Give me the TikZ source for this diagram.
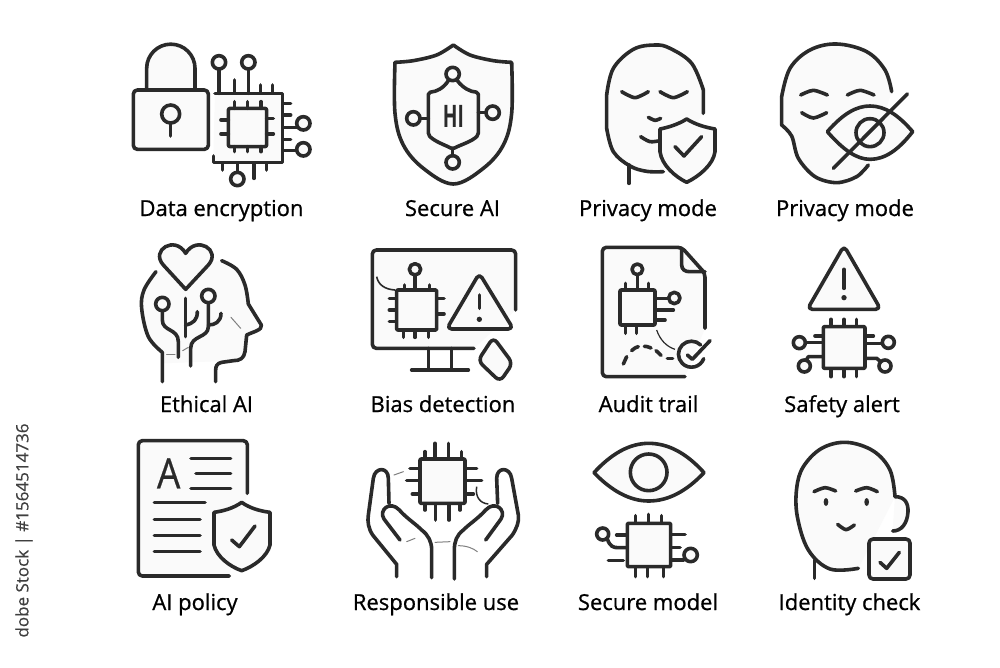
\documentclass[tikz,border=0pt]{standalone}
\usepackage{fontspec}
\setmainfont{Open Sans}
\definecolor{ink}{HTML}{2A2A2A}
\definecolor{pale}{HTML}{FAFAFA}
\tikzset{
  ln/.style={draw=ink,line width=3.6pt,line cap=round,line join=round},
  lf/.style={ln,fill=pale},
  thin/.style={draw=ink!60,line width=1pt,line cap=round},
  lab/.style={text=black,font=\fontsize{22}{24}\selectfont\addfontfeature{FakeBold=0.8},inner sep=0pt,anchor=base},
  zoomed/.style={x=0.33333pt,y=-0.33333pt}
}
\newcommand{\cir}[3]{\draw[lf] (#1,#2) circle[radius=#3];}
\newcommand{\seg}[4]{\draw[ln] (#1,#2) -- (#3,#4);}
\begin{document}
\begin{tikzpicture}[x=1pt,y=-1pt]
\fill[white] (0,0) rectangle (1000,667);
\useasboundingbox (0,0) rectangle (1000,667);
% side label
\node[rotate=90,inner sep=0pt,text=ink!90!white,font=\fontsize{17}{19}\selectfont\addfontfeature{FakeBold=0.4}] (side) at (24,530.5) {dobe Stock | \#1564514736};
% ---------- Data encryption
\begin{scope}[shift={(120,30)},zoomed]
  \draw[lf] (285,190) -- (488,190) -- (488,398) -- (280,398) -- (280,378);
  \draw[ln,fill=pale] (80,178) -- (80,115) arc[start angle=180,end angle=360,radius=72.5] -- (225,178);
  \seg{297}{117}{297}{190}\seg{385}{117}{385}{190}
  \cir{297}{97}{20}\cir{385}{97}{20}
  \seg{343}{150}{343}{188}\seg{422}{165}{422}{188}\seg{458}{165}{458}{188}
  \foreach \yy in {220,255,328}{\seg{490}{\yy}{512}{\yy}}
  \seg{490}{292}{532}{292}\seg{490}{362}{532}{362}
  \cir{550}{280}{20}\cir{550}{358}{20}
  \seg{308}{400}{308}{420}\seg{402}{400}{402}{445}\seg{440}{400}{440}{420}\seg{352}{400}{352}{427}
  \cir{352}{447}{20}
  \draw[lf,rounded corners=2pt] (325,235) rectangle (440,350);
  \foreach \xx in {343,383,423}{\seg{\xx}{215}{\xx}{235}\seg{\xx}{350}{\xx}{365}}
  \seg{303}{270}{325}{270}\seg{303}{312}{325}{312}\seg{440}{265}{460}{265}\seg{440}{312}{460}{312}
  \draw[lf,rounded corners=4pt] (40,180) rectangle (265,358);
  \draw[ln] (152,252) circle[radius=27];
  \seg{152}{279}{152}{318}
\end{scope}
% ---------- Secure AI
\begin{scope}[shift={(120,30)},zoomed]
  \draw[lf] plot[smooth,tension=0.55] coordinates {(1000,45) (950,75) (880,92) (825,97)} -- plot[smooth,tension=0.6] coordinates {(825,97) (825,250) (850,345) (910,415) (1000,462) (1090,415) (1150,345) (1175,250) (1175,97)} -- plot[smooth,tension=0.55] coordinates {(1175,97) (1120,92) (1050,75) (1000,45)} -- cycle;
  \draw[ln,rounded corners=2pt] (985,152) .. controls (970,175) and (950,185) .. (925,187) -- (925,315) .. controls (945,335) and (975,345) .. (998,357) .. controls (1020,345) and (1055,335) .. (1075,315) -- (1075,187) .. controls (1050,185) and (1030,175) .. (1012,152);
  \cir{998}{132}{20}\cir{880}{265}{20}\cir{1118}{248}{20}\cir{998}{397}{20}
  \seg{900}{265}{925}{265}\seg{1075}{248}{1098}{248}\seg{998}{357}{998}{377}
  \node[inner sep=0pt,text=ink,font=\fontsize{31}{31}\selectfont\bfseries] (hi) at (1000,259) {\scalebox{0.62}[1]{HI}};
\end{scope}
% ---------- Privacy mode 1
\begin{scope}[shift={(570,30)},zoomed]
  \draw[lf] (400,250) -- plot[smooth,tension=0.6] coordinates {(400,180) (365,100) (300,55) (255,45) (190,58) (130,115) (110,195)} -- (110,295) -- plot[smooth,tension=0.6] coordinates {(110,295) (130,365) (180,408) (230,424) (280,425)};
  \seg{177}{405}{177}{460}
  \draw[ln] plot[smooth] coordinates {(155,185) (195,203) (235,185)};
  \draw[ln] plot[smooth] coordinates {(270,185) (310,203) (352,185)};
  \draw[ln] plot[smooth] coordinates {(235,262) (255,271) (272,265)};
  \draw[ln] plot[smooth] coordinates {(212,320) (240,335) (270,332)};
  \draw[lf] (350,267) .. controls (325,283) and (295,292) .. (270,297) -- (270,365) .. controls (275,405) and (315,440) .. (350,457) .. controls (385,440) and (430,405) .. (435,365) -- (435,297) .. controls (405,292) and (375,283) .. (350,267) -- cycle;
  \draw[ln] (315,350) -- (342,378) -- (395,320);
\end{scope}
% ---------- Privacy mode 2
\begin{scope}[shift={(570,30)},zoomed]
  \draw[lf] plot[smooth,tension=0.6] coordinates {(965,185) (945,120) (890,65) (800,42) (720,60) (660,115) (635,200)} -- (635,285) -- plot[smooth,tension=0.55] coordinates {(635,285) (665,318) (685,385) (735,440) (800,458) (860,440) (895,405)};
  \draw[ln] plot[smooth] coordinates {(692,195) (730,181) (772,195)};
  \draw[ln] plot[smooth] coordinates {(832,195) (870,181) (912,195)};
  \draw[ln] plot[smooth] coordinates {(695,248) (730,264) (770,248)};
  \draw[lf] (772,305) .. controls (820,250) and (860,228) .. (900,228) .. controls (945,228) and (985,255) .. (1028,305) .. controls (985,360) and (945,388) .. (900,388) .. controls (860,388) and (820,360) .. (772,305) -- cycle;
  \draw[ln] (900,308) circle[radius=42];
  \draw[ln] (790,415) -- (1012,192);
\end{scope}
% ---------- Ethical AI
\begin{scope}[shift={(120,230)},zoomed]
  \fill[pale] plot[smooth,tension=0.6] coordinates {(108,125) (72,180) (65,235) (85,320) (127,367)} -- (127,400) -- (340,392) -- (375,365) -- (380,315) -- (424,290) -- plot[smooth,tension=0.6] coordinates {(385,222) (375,165) (350,118) (305,92)} -- cycle;
  \draw[ln] plot[smooth,tension=0.6] coordinates {(108,125) (72,180) (65,235) (85,320) (127,367)} -- (127,455);
  \draw[ln] plot[smooth,tension=0.6] coordinates {(305,92) (350,118) (375,165) (385,222)} -- (424,285) .. controls (428,300) and (400,305) .. (380,315) -- (375,365) .. controls (372,385) and (360,392) .. (340,392) -- (305,397) .. controls (290,400) and (287,410) .. (287,420) -- (287,455);
  \draw[lf] (197,178) -- (130,105) .. controls (90,60) and (165,15) .. (197,70) .. controls (230,15) and (305,60) .. (265,105) -- (197,178) -- cycle;
  \draw[ln] (127,242) -- (127,270) .. controls (127,305) and (175,295) .. (175,335) -- (175,382);
  \draw[ln] (197,205) -- (197,320);
  \draw[ln] (197,285) .. controls (220,280) and (232,270) .. (232,245);
  \draw[ln] (265,218) -- (265,290) .. controls (265,325) and (212,315) .. (212,355) -- (212,408);
  \draw[ln] (265,285) .. controls (285,285) and (303,275) .. (303,250);
  \cir{127}{222}{20}\cir{265}{198}{20}
  \draw[thin] (140,372) -- (165,372); \draw[thin] (188,362) -- (205,352);
  \draw[thin] (333,262) -- (362,295);
\end{scope}
% ---------- Bias detection
\begin{scope}[shift={(120,230)},zoomed]
  \draw[ln,fill=pale,rounded corners=4pt] (1187,240) -- (1187,60) -- (757,60) -- (757,355) -- (1062,355);
  \seg{925}{355}{925}{420}\seg{995}{355}{995}{420}\seg{875}{420}{1045}{420}
  \draw[draw=ink,line width=1.6pt] (770,140) .. controls (775,165) and (795,178) .. (825,180);
  \seg{885}{135}{885}{180}\cir{885}{118}{17}
  \seg{853}{165}{853}{180}\seg{928}{165}{928}{180}
  \foreach \yy in {205,240,275}{\seg{808}{\yy}{830}{\yy}}
  \seg{950}{205}{972}{205}\seg{950}{252}{972}{252}
  \foreach \xx in {850,885,925}{\seg{\xx}{300}{\xx}{322}}
  \draw[lf,rounded corners=1pt] (830,180) rectangle (950,300);
  \draw[lf,rounded corners=5pt] (1078,130) -- (980,297) -- (1180,297) -- cycle;
  \seg{1078}{195}{1078}{235}\fill[ink] (1078,268) circle[radius=8];
  \draw[lf,rounded corners=6pt] (1120,322) -- (1074,392) -- (1140,455) -- (1178,400) -- cycle;
\end{scope}
% ---------- Audit trail
\begin{scope}[shift={(570,230)},zoomed]
  \draw[ln,fill=pale,rounded corners=4pt] (345,440) -- (97,440) -- (97,52) -- (335,52) -- (405,130) -- (405,295);
  \draw[ln] (335,55) -- (335,105) .. controls (335,118) and (345,125) .. (358,125) -- (405,125);
  \seg{202}{135}{202}{180}\cir{202}{118}{16}
  \seg{167}{160}{167}{180}\seg{235}{160}{235}{180}
  \seg{255}{205}{296}{205}\cir{313}{204}{17}
  \seg{255}{240}{310}{240}\seg{255}{270}{285}{270}
  \seg{167}{285}{167}{310}\seg{200}{285}{200}{310}
  \draw[lf,rounded corners=1pt] (150,180) rectangle (255,285);
  \draw[ln] (160,402) -- (170,380);
  \draw[ln] plot[smooth] coordinates {(185,362) (195,354) (205,350)};
  \draw[ln] plot[smooth] coordinates {(223,349) (232,350) (243,354)};
  \draw[ln] plot[smooth] coordinates {(258,362) (266,369) (273,376)};
  \draw[ln] (292,385) -- (308,385);
  \draw[draw=ink,line width=1.2pt] (260,300) .. controls (270,330) and (290,350) .. (315,358);
  \draw[ln] (392,345) arc[start angle=315,end angle=20,radius=39];
  \draw[ln] (352,375) -- (367,388) -- (420,332);
\end{scope}
% ---------- Safety alert
\begin{scope}[shift={(570,230)},zoomed]
  \draw[lf,rounded corners=5pt] (822,47) -- (712,238) -- (932,238) -- cycle;
  \seg{822}{118}{822}{175}\fill[ink] (822,203) circle[radius=8];
  \foreach \xx in {783,822,860}{\seg{\xx}{268}{\xx}{290}\seg{\xx}{415}{\xx}{440}}
  \seg{885}{318}{910}{318}\seg{885}{340}{937}{340}\cir{955}{337}{18}
  \draw[ln] (885,385) -- (920,385) -- (932,395);\cir{945}{408}{18}
  \seg{735}{318}{760}{318}\seg{706}{338}{760}{338}\cir{688}{338}{18}
  \draw[ln] (760,380) -- (715,380) -- (708,392);\cir{703}{408}{18}
  \draw[lf,rounded corners=1pt] (760,290) rectangle (885,415);
\end{scope}
% ---------- AI policy
\begin{scope}[shift={(120,425)},zoomed]
  \draw[ln,fill=pale,rounded corners=4pt] (382,205) -- (382,47) -- (55,47) -- (55,453) -- (328,453);
  \node[inner sep=0pt,text=ink,font=\fontsize{42}{42}\selectfont\addfontfeature{FakeBold=0.5}] (policyA) at (146,145) {\scalebox{0.88}[1]{A}};
  \seg{213}{100}{332}{100}\seg{228}{145}{332}{145}\seg{213}{190}{332}{190}
  \seg{103}{233}{255}{233}\seg{103}{283}{240}{283}\seg{103}{332}{240}{332}\seg{103}{380}{240}{380}
  \draw[lf] (365,232) .. controls (340,250) and (310,258) .. (282,262) -- (282,360) .. controls (290,395) and (330,425) .. (365,437) .. controls (400,425) and (442,395) .. (450,360) -- (450,262) .. controls (420,258) and (390,250) .. (365,232) -- cycle;
  \draw[ln] (335,345) -- (358,365) -- (405,303);
\end{scope}
% ---------- Responsible use
\begin{scope}[shift={(120,425)},zoomed]
  \foreach \xx/\ya in {915/80,945/55,985/55,1025/80}{\seg{\xx}{\ya}{\xx}{102}}
  \foreach \xx/\ya in {915/255,947/285,987/285,1020/255}{\seg{\xx}{235}{\xx}{\ya}}
  \seg{870}{130}{900}{130}\seg{860}{167}{900}{167}\seg{877}{207}{900}{207}
  \seg{1035}{130}{1070}{130}\seg{1035}{167}{1085}{167}\seg{1035}{207}{1060}{207}
  \draw[lf,rounded corners=1pt] (900,102) rectangle (1035,235);
  \draw[ln] (830,455) -- (830,418) -- (758,330) .. controls (745,310) and (742,290) .. (745,270) -- (760,160) .. controls (765,125) and (805,125) .. (805,160) -- (807,235);
  \draw[ln] (840,345) -- (792,282) .. controls (775,255) and (810,225) .. (838,255) .. controls (860,280) and (885,295) .. (905,315) .. controls (925,330) and (935,350) .. (935,375) -- (935,458);
  \draw[ln] (1100,455) -- (1100,418) -- (1177,330) .. controls (1190,310) and (1198,290) .. (1195,270) -- (1175,160) .. controls (1170,125) and (1130,125) .. (1130,160) -- (1133,235);
  \draw[ln] (1097,345) -- (1143,282) .. controls (1160,255) and (1125,225) .. (1097,255) .. controls (1075,280) and (1050,295) .. (1030,315) .. controls (1010,330) and (1003,350) .. (1003,375) -- (1003,462);
  \draw[thin] (822,150) -- (850,140); \draw[thin] (860,350) -- (885,340); \draw[thin] (945,352) -- (990,350); \draw[thin] (1015,362) .. controls (1040,362) and (1060,370) .. (1072,380);
  \draw[draw=ink,line width=1.5pt] (1070,185) .. controls (1065,215) and (1080,235) .. (1105,237);
\end{scope}
% ---------- Secure model
\begin{scope}[shift={(570,425)},zoomed]
  \draw[lf] (72,143) .. controls (125,85) and (180,55) .. (236,55) .. controls (295,55) and (350,85) .. (402,143) .. controls (350,198) and (295,228) .. (236,228) .. controls (180,228) and (125,198) .. (72,143) -- cycle;
  \draw[ln] (236,142) circle[radius=55];
  \foreach \xx/\yb in {197/272,236/268,275/272}{\seg{\xx}{\yb}{\xx}{295}}
  \foreach \xx in {197,233,280}{\seg{\xx}{425}{\xx}{455}}
  \draw[ln] (112,342) .. controls (120,365) and (130,368) .. (145,368) -- (172,368);
  \cir{98}{327}{18}
  \seg{140}{330}{172}{330}\seg{115}{407}{160}{407}
  \seg{302}{328}{345}{328}\seg{302}{368}{330}{368}\seg{302}{405}{340}{405}
  \cir{362}{390}{20}
  \draw[lf,rounded corners=1pt] (172,295) rectangle (302,425);
\end{scope}
% ---------- Identity check
\begin{scope}[shift={(570,425)},zoomed]
  \draw[lf] plot[smooth,tension=0.6] coordinates {(975,215) (960,135) (910,78) (830,52) (755,70) (700,125) (680,190) (682,275) (715,375) (780,432) (865,430)};
  \draw[ln,fill=pale] (975,215) .. controls (1005,215) and (1015,235) .. (1014,260) .. controls (1012,295) and (995,318) .. (968,318);
  \seg{733}{405}{733}{460}
  \draw[ln] plot[smooth] coordinates {(732,200) (765,188) (797,198)};
  \draw[ln] plot[smooth] coordinates {(857,198) (890,188) (922,200)};
  \fill[ink] (768,231) ellipse[x radius=7,y radius=12];
  \fill[ink] (890,231) ellipse[x radius=7,y radius=12];
  \draw[ln] plot[smooth] coordinates {(803,298) (828,314) (853,300)};
  \draw[lf,rounded corners=4pt] (897,342) rectangle (1020,462);
  \draw[ln] (930,412) -- (950,430) -- (988,382);
\end{scope}
% labels
\node[lab] (l1) at (221.5,216) {Data encryption};
\node[lab] (l2) at (452.5,216) {Secure AI};
\node[lab] (l3) at (648,216) {Privacy mode};
\node[lab] (l4) at (845,216) {Privacy mode};
\node[lab] (l5) at (206.5,412) {Ethical AI};
\node[lab] (l6) at (443,412) {Bias detection};
\node[lab] (l7) at (648.5,412) {Audit trail};
\node[lab] (l8) at (842,412) {Safety alert};
\node[lab] (l9) at (195,610) {AI policy};
\node[lab] (l10) at (436,610) {Responsible use};
\node[lab] (l11) at (648,610) {Secure model};
\node[lab] (l12) at (849.5,610) {Identity check};
\end{tikzpicture}
\end{document}
